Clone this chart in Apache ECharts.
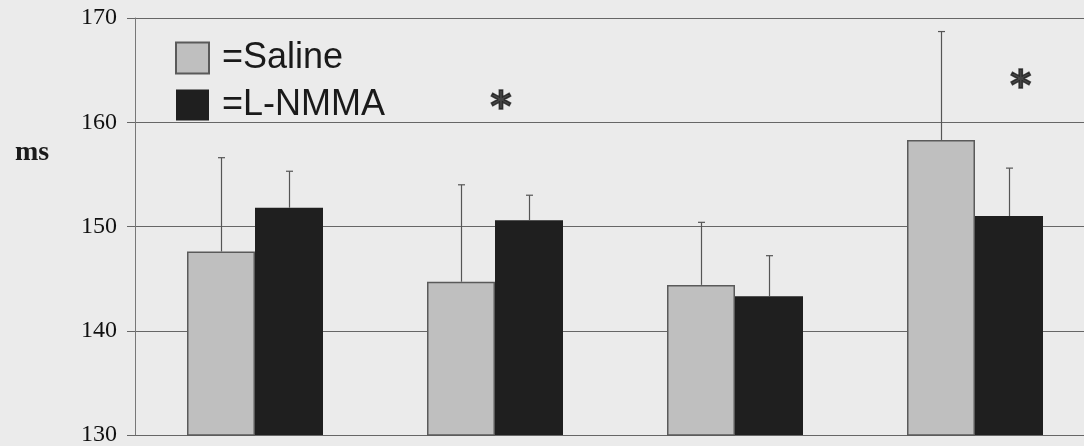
<!DOCTYPE html>
<html>
<head>
<meta charset="utf-8">
<script src="https://cdn.jsdelivr.net/npm/echarts@6/dist/echarts.min.js"></script>
<style>
html,body{margin:0;padding:0;background:#ebebeb;overflow:hidden;}
#chart{width:1084px;height:446px;}
</style>
</head>
<body>
<div id="chart"></div>
<script>
// ---- data ----
var categories = ['1', '2', '3', '4'];
var salineValues = [147.6, 144.7, 144.4, 158.3];
var salineErrTop = [156.6, 154.0, 150.4, 168.7];
var lnmmaValues = [151.8, 150.6, 143.3, 151.0];
var lnmmaErrTop = [155.3, 153.0, 147.2, 155.6];
var yTicks = [130, 140, 150, 160, 170];
// significance markers: [x position in category units, y value]
var asterisks = [[1.525, 161.2], [3.69, 163.2]];

var BAR_FRAC = 68 / 240;

function errRender(offsetSign) {
  return function (params, api) {
    var i = api.value(0);
    var base = api.coord([i, api.value(1)]);
    var top = api.coord([i, api.value(2)]);
    var band = api.size([1, 0])[0];
    var x = Math.round(base[0] + offsetSign * band * BAR_FRAC / 2) + 0.5;
    var style = { stroke: '#555', lineWidth: 1.2 };
    return {
      type: 'group',
      children: [
        { type: 'line', shape: { x1: x, y1: base[1], x2: x, y2: top[1] }, style: style },
        { type: 'line', shape: { x1: x - 3.5, y1: top[1], x2: x + 3.5, y2: top[1] }, style: style }
      ]
    };
  };
}

var chart = echarts.init(document.getElementById('chart'), null, { renderer: 'canvas' });
chart.setOption({
  backgroundColor: '#ebebeb',
  animation: false,
  title: {
    text: 'ms', left: 10, top: 134,
    textStyle: { fontFamily: 'Liberation Serif', fontWeight: 'bold', fontSize: 28, color: '#1a1a1a' }
  },
  legend: {
    orient: 'vertical', left: 170, top: 35,
    itemWidth: 33, itemHeight: 31, itemGap: 11,
    icon: 'rect',
    formatter: function (n) { return '=' + n; },
    textStyle: { fontFamily: 'Liberation Sans', fontSize: 36, color: '#1a1a1a', padding: [0, 0, 0, 8] },
    data: ['Saline', 'L-NMMA']
  },
  grid: { left: 135, width: 960, top: 18, bottom: 11, containLabel: false, outerBoundsMode: 'none' },
  xAxis: [{
    type: 'category', data: categories, boundaryGap: true,
    axisLine: { show: false }, axisTick: { show: false }, axisLabel: { show: false }
  }, {
    type: 'value', min: 0, max: 4, show: false
  }],
  yAxis: {
    type: 'value', min: yTicks[0], max: yTicks[yTicks.length - 1], interval: 10,
    axisLine: { show: true, lineStyle: { color: '#777', width: 1 } },
    axisTick: { show: true, length: 8, lineStyle: { color: '#666' } },
    axisLabel: { margin: 18, fontFamily: 'Liberation Serif', fontSize: 24, color: '#111' },
    splitLine: { show: true, lineStyle: { color: '#666', width: 1 } }
  },
  series: [{
    name: 'Saline', type: 'bar', data: salineValues,
    barWidth: (BAR_FRAC * 100) + '%', barGap: '0%',
    itemStyle: { color: '#bfbfbf', borderColor: '#5a5a5a', borderWidth: 1.5 }
  }, {
    name: 'L-NMMA', type: 'bar', data: lnmmaValues,
    barWidth: (BAR_FRAC * 100) + '%', barGap: '0%',
    itemStyle: { color: '#1f1f1f', borderColor: '#1f1f1f', borderWidth: 0 }
  }, {
    type: 'custom', renderItem: errRender(-1), z: 5,
    data: salineValues.map(function (v, i) { return [i, v, salineErrTop[i]]; })
  }, {
    type: 'custom', renderItem: errRender(1), z: 5,
    data: lnmmaValues.map(function (v, i) { return [i, v, lnmmaErrTop[i]]; })
  }, {
    type: 'scatter', xAxisIndex: 1, symbolSize: 0, data: asterisks, silent: true,
    label: {
      show: true, position: 'inside', formatter: '*',
      fontFamily: 'DejaVu Sans', fontWeight: 'bold', fontSize: 40, color: '#1a1a1a',
      textBorderColor: '#1a1a1a', textBorderWidth: 1.5
    }
  }]
});
</script>
</body>
</html>
